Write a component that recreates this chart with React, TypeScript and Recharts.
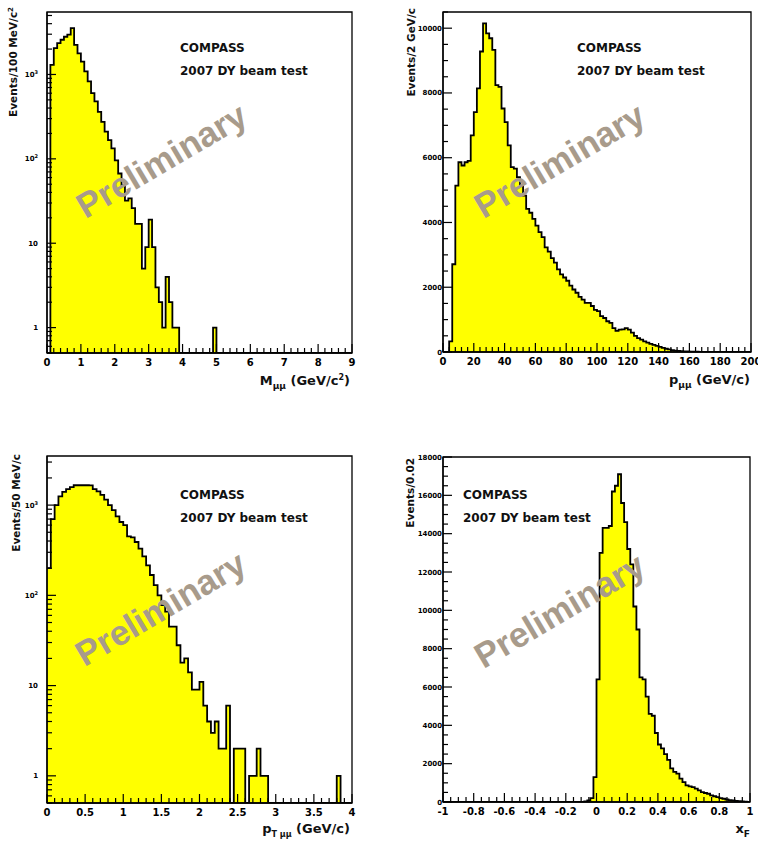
import React from 'react';
import { AreaChart, Area, XAxis, YAxis, ReferenceArea } from 'recharts';

// bin contents
// M_mumu: 0.1 GeV bins from 0 to 9
const massCounts = [
  0, 1300, 2050, 2350, 2580, 2800, 2960, 3550, 2240, 1780,
  1420, 1090, 830, 600, 480, 360, 275, 210, 167, 133,
  96, 67, 49, 32, 34, 26, 17, 17, 5, 9,
  19, 9, 3, 2, 1, 4, 2, 1, 1, 0,
  0, 0, 0, 0, 0, 0, 0, 0, 0, 1,
  0, 0, 0, 0, 0, 0, 0, 0, 0, 0,
  0, 0, 0, 0, 0, 0, 0, 0, 0, 0,
  0, 0, 0, 0, 0, 0, 0, 0, 0, 0,
  0, 0, 0, 0, 0, 0, 0, 0, 0, 0,
];

// p_mumu: 2 GeV/c bins from 0 to 200
const momentumCounts = [
  0, 0, 330, 2710, 5140, 5860, 5760, 5860, 5900, 6690,
  7410, 8140, 9280, 10150, 9840, 9690, 9330, 8240, 8190, 7520,
  7100, 6380, 5710, 5660, 5400, 5140, 4830, 4420, 4300, 4110,
  3900, 3700, 3550, 3230, 3100, 2900, 2760, 2550, 2400, 2300,
  2200, 2050, 1930, 1830, 1700, 1620, 1520, 1520, 1420, 1300,
  1260, 1110, 1050, 950, 900, 740, 650, 690, 700, 740,
  690, 600, 500, 430, 380, 330, 290, 250, 220, 190,
  160, 130, 100, 80, 60, 45, 35, 28, 20, 15,
  12, 9, 7, 5, 4, 3, 2, 2, 1, 1,
  0, 0, 0, 0, 0, 0, 0, 0, 0, 0,
];

// pT_mumu: 0.05 GeV/c bins from 0 to 4
const ptCounts = [
  200, 700, 1000, 1250, 1400, 1500, 1580, 1660, 1660, 1660,
  1660, 1650, 1500, 1420, 1300, 1150, 1000, 880, 750, 650,
  600, 450, 440, 390, 330, 270, 215, 168, 130, 100,
  78, 66, 45, 45, 28, 18, 20, 14, 9, 9,
  11, 6, 4, 3, 4, 2, 2, 6, 0, 2,
  2, 2, 0, 1, 1, 2, 1, 1, 0, 0,
  0, 0, 0, 0, 0, 0, 0, 0, 0, 0,
  0, 0, 0, 0, 0, 0, 1, 0, 0, 0,
];

// x_F: 0.02 bins from -1 to 1
const xfCounts = [
  0, 0, 0, 0, 0, 0, 0, 0, 0, 0,
  0, 0, 0, 0, 0, 0, 0, 0, 0, 0,
  0, 0, 0, 0, 0, 0, 0, 0, 0, 0,
  0, 0, 0, 0, 0, 0, 0, 0, 0, 0,
  0, 0, 0, 0, 0, 0, 30, 80, 200, 1300,
  6400, 13000, 14300, 14300, 14400, 16200, 16500, 17100, 15600, 14600,
  13200, 12400, 10200, 9000, 6500, 6400, 5500, 4600, 4500, 3600,
  3000, 2800, 2500, 2200, 1750, 1570, 1480, 1220, 1040, 870,
  820, 780, 700, 610, 520, 470, 430, 350, 300, 250,
  200, 170, 130, 100, 80, 60, 40, 30, 20, 10,
];

const massTicks = [0, 1, 2, 3, 4, 5, 6, 7, 8, 9];
const momentumTicks = [0, 20, 40, 60, 80, 100, 120, 140, 160, 180, 200];
const ptTicks = [0, 0.5, 1, 1.5, 2, 2.5, 3, 3.5, 4];
const xfTicks = [-1, -0.8, -0.6, -0.4, -0.2, 0, 0.2, 0.4, 0.6, 0.8, 1];
const logTicks = [1, 10, 100, 1000];
const momentumYTicks = [0, 2000, 4000, 6000, 8000, 10000];
const xfYTicks = [0, 2000, 4000, 6000, 8000, 10000, 12000, 14000, 16000, 18000];

const FONT = 'DejaVu Sans';
const WATERMARK = '#a89b8b';

// histogram -> step points at bin lower edges, plus the closing edge
const toSteps = (counts: number[], start: number, width: number, floor: number) => {
  const pts = counts.map((c, i) => ({
    x: +(start + i * width).toFixed(4),
    v: Math.max(c, floor),
  }));
  pts.push({
    x: +(start + counts.length * width).toFixed(4),
    v: Math.max(counts[counts.length - 1], floor),
  });
  return pts;
};

const linTicks = (lo: number, hi: number, step: number) => {
  const out: number[] = [];
  for (let v = lo; v <= hi + 1e-9; v += step) out.push(+v.toFixed(6));
  return out;
};

const logMinorTicks = (lo: number, hi: number) => {
  const out: number[] = [];
  for (let d = -1; d <= 4; d++) {
    for (let m = 1; m <= 9; m++) {
      const v = +(m * Math.pow(10, d)).toFixed(6);
      if (v >= lo && v <= hi) out.push(v);
    }
  }
  return out;
};

const isIn = (list: number[], v: number) => list.some((m) => Math.abs(m - v) < 1e-6);

const fmtLog = (v: number) => {
  if (v === 1) return <>1</>;
  if (v === 10) return <>10</>;
  return (
    <>
      10<tspan dy={-3} fontSize={5}>{Math.round(Math.log10(v))}</tspan>
    </>
  );
};

const makeXTick = (majors: number[]) => (props: any) => {
  const { x, y, payload } = props;
  const major = isIn(majors, payload.value);
  return (
    <g>
      <line x1={x} y1={y} x2={x} y2={y - (major ? 9 : 5)} stroke="#000" strokeWidth={1.2} />
      {major && (
        <text x={x} y={y + 13} textAnchor="middle" fontSize={10} fontWeight="bold" fontFamily={FONT} fill="#000">
          {String(payload.value)}
        </text>
      )}
    </g>
  );
};

const makeYTick = (majors: number[], log: boolean) => (props: any) => {
  const { x, y, payload } = props;
  const major = isIn(majors, payload.value);
  return (
    <g>
      <line x1={x} y1={y} x2={x + (major ? 9 : 5)} y2={y} stroke="#000" strokeWidth={1.2} />
      {major && (
        <text
          x={log ? x - 9 : x - 1}
          y={y + 2.5}
          textAnchor="end"
          fontSize={7}
          fontWeight="bold"
          fontFamily={FONT}
          fill="#000"
        >
          {log ? fmtLog(payload.value) : String(payload.value)}
        </text>
      )}
    </g>
  );
};

interface PanelProps {
  left: number;
  top: number;
  width: number;
  height: number;
  margin: { top: number; right: number; bottom: number; left: number };
  data: { x: number; v: number }[];
  xDomain: [number, number];
  xAll: number[];
  xMajor: number[];
  yDomain: [number, number];
  yAll: number[];
  yMajor: number[];
  log: boolean;
}

const Panel: React.FC<PanelProps> = (p) => (
  <div style={{ position: 'absolute', left: p.left, top: p.top }}>
    <AreaChart width={p.width} height={p.height} data={p.data} margin={p.margin}>
      <XAxis
        dataKey="x"
        type="number"
        domain={p.xDomain}
        ticks={p.xAll}
        interval={0}
        allowDataOverflow
        height={30}
        tickSize={0}
        tickMargin={0}
        tickLine={false}
        axisLine={{ stroke: '#000', strokeWidth: 1.3 }}
        tick={makeXTick(p.xMajor)}
      />
      <YAxis
        type="number"
        scale={p.log ? 'log' : 'linear'}
        domain={p.yDomain}
        ticks={p.yAll}
        interval={0}
        allowDataOverflow
        width={40}
        tickSize={0}
        tickMargin={0}
        tickLine={false}
        axisLine={{ stroke: '#000', strokeWidth: 1.3 }}
        tick={makeYTick(p.yMajor, p.log)}
      />
      <Area
        type="stepAfter"
        dataKey="v"
        stroke="#000"
        strokeWidth={1.8}
        fill="#ffff00"
        fillOpacity={1}
        baseValue={p.yDomain[0]}
        dot={false}
        activeDot={false}
        isAnimationActive={false}
      />
      <ReferenceArea
        x1={p.xDomain[0]}
        x2={p.xDomain[1]}
        y1={p.yDomain[0]}
        y2={p.yDomain[1]}
        fill="none"
        fillOpacity={0}
        stroke="#000"
        strokeWidth={1.3}
        ifOverflow="visible"
      />
    </AreaChart>
  </div>
);

const Caption: React.FC<{ x: number; y: number }> = ({ x, y }) => (
  <g fontFamily={FONT} fontWeight="bold" fontSize={12} fill="#111">
    <text x={x} y={y}>COMPASS</text>
    <text x={x} y={y + 23}>2007 DY beam test</text>
  </g>
);

const Watermark: React.FC<{ cx: number; cy: number }> = ({ cx, cy }) => (
  <text
    x={cx}
    y={cy}
    transform={`rotate(-30.5 ${cx} ${cy})`}
    textAnchor="middle"
    dominantBaseline="middle"
    fontFamily="Liberation Sans"
    fontWeight="bold"
    fontSize={35}
    fill={WATERMARK}
  >
    Preliminary
  </text>
);

const YTitle: React.FC<{ x: number; y: number; children: React.ReactNode }> = ({ x, y, children }) => (
  <text
    x={x}
    y={y}
    transform={`rotate(-90 ${x} ${y})`}
    textAnchor="end"
    fontFamily={FONT}
    fontWeight="bold"
    fontSize={10.5}
    fill="#111"
  >
    {children}
  </text>
);

const XTitle: React.FC<{ x: number; y: number; children: React.ReactNode }> = ({ x, y, children }) => (
  <text x={x} y={y} textAnchor="end" fontFamily={FONT} fontWeight="bold" fontSize={13} fill="#111">
    {children}
  </text>
);

export default function App() {
  const massData = toSteps(massCounts, 0, 0.1, 0.5);
  const momentumData = toSteps(momentumCounts, 0, 2, 0);
  const ptData = toSteps(ptCounts, 0, 0.05, 0.5);
  const xfData = toSteps(xfCounts, -1, 0.02, 0);

  return (
    <div style={{ position: 'absolute', left: 0, top: 0, width: 758, height: 842, background: '#fff', overflow: 'hidden' }}>
      <Panel
        left={0}
        top={0}
        width={380}
        height={400}
        margin={{ top: 12, right: 28, bottom: 17, left: 7 }}
        data={massData}
        xDomain={[0, 9]}
        xAll={linTicks(0, 9, 0.2)}
        xMajor={massTicks}
        yDomain={[0.5, 5500]}
        yAll={logMinorTicks(0.5, 5500)}
        yMajor={logTicks}
        log
      />
      <Panel
        left={380}
        top={0}
        width={378}
        height={400}
        margin={{ top: 12, right: 7, bottom: 18, left: 23 }}
        data={momentumData}
        xDomain={[0, 200]}
        xAll={linTicks(0, 200, 4)}
        xMajor={momentumTicks}
        yDomain={[0, 10500]}
        yAll={linTicks(0, 10500, 500)}
        yMajor={momentumYTicks}
        log={false}
      />
      <Panel
        left={0}
        top={440}
        width={380}
        height={402}
        margin={{ top: 16, right: 28, bottom: 9, left: 7 }}
        data={ptData}
        xDomain={[0, 4]}
        xAll={linTicks(0, 4, 0.1)}
        xMajor={ptTicks}
        yDomain={[0.5, 3500]}
        yAll={logMinorTicks(0.5, 3500)}
        yMajor={logTicks}
        log
      />
      <Panel
        left={380}
        top={440}
        width={378}
        height={402}
        margin={{ top: 17, right: 8, bottom: 10, left: 23 }}
        data={xfData}
        xDomain={[-1, 1]}
        xAll={linTicks(-1, 1, 0.05)}
        xMajor={xfTicks}
        yDomain={[0, 18000]}
        yAll={linTicks(0, 18000, 500)}
        yMajor={xfYTicks}
        log={false}
      />

      <svg width={758} height={842} style={{ position: 'absolute', left: 0, top: 0, pointerEvents: 'none' }}>
        <Caption x={180} y={52} />
        <Caption x={577} y={52} />
        <Caption x={180} y={499} />
        <Caption x={463} y={499} />

        <Watermark cx={163} cy={163} />
        <Watermark cx={561} cy={163} />
        <Watermark cx={162} cy={611} />
        <Watermark cx={561} cy={613} />

        <YTitle x={17} y={7}>
          Events/100 MeV/c<tspan dy={-4} fontSize={7}>2</tspan>
        </YTitle>
        <YTitle x={415} y={8}>Events/2 GeV/c</YTitle>
        <YTitle x={20} y={454}>Events/50 MeV/c</YTitle>
        <YTitle x={414} y={458}>Events/0.02</YTitle>

        <XTitle x={350} y={385}>
          M<tspan dy={4} fontSize={9}>μμ</tspan>
          <tspan dy={-4}> (GeV/c</tspan>
          <tspan dy={-5} fontSize={8}>2</tspan>
          <tspan dy={5}>)</tspan>
        </XTitle>
        <XTitle x={750} y={384}>
          p<tspan dy={4} fontSize={9}>μμ</tspan>
          <tspan dy={-4}> (GeV/c)</tspan>
        </XTitle>
        <XTitle x={350} y={833}>
          p<tspan dy={4} fontSize={8}>T μμ</tspan>
          <tspan dy={-4}> (GeV/c)</tspan>
        </XTitle>
        <XTitle x={750} y={833}>
          x<tspan dy={4} fontSize={9}>F</tspan>
        </XTitle>
      </svg>
    </div>
  );
}
